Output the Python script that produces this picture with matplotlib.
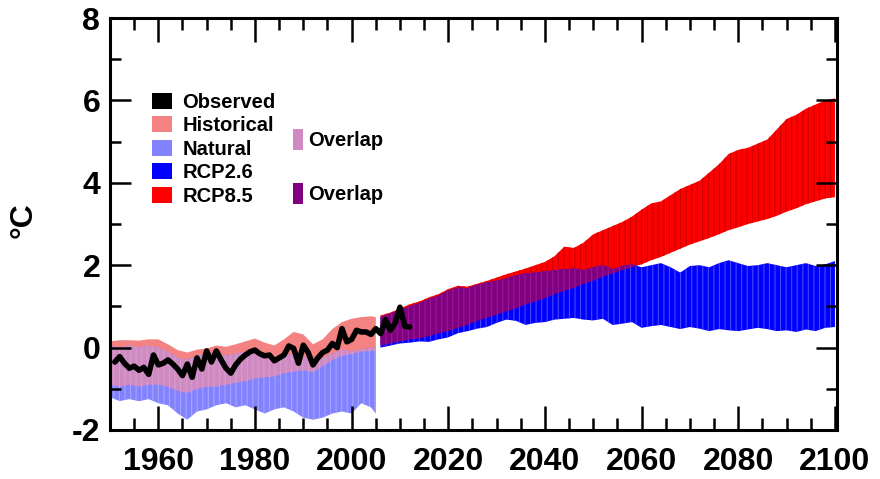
import numpy as np
import matplotlib
matplotlib.use("Agg")
import matplotlib.pyplot as plt
from matplotlib.patches import Patch
from matplotlib.ticker import MultipleLocator

plt.rcParams["font.family"] = ["Liberation Sans", "DejaVu Sans"]
plt.rcParams["axes.unicode_minus"] = False
plt.rcParams["hatch.linewidth"] = 0.8

# ---- observed global mean temperature anomaly (°C) ----
obs_years = np.arange(1951, 2013)
observed = [-0.35, -0.22, -0.38, -0.50, -0.45, -0.55, -0.48, -0.65, -0.18, -0.42,
            -0.38, -0.30, -0.40, -0.52, -0.68, -0.40, -0.72, -0.25, -0.52, -0.08,
            -0.35, -0.08, -0.30, -0.50, -0.62, -0.42, -0.28, -0.18, -0.10, -0.06,
            -0.15, -0.20, -0.18, -0.32, -0.25, -0.18, 0.04, -0.02, -0.38, 0.06,
            -0.12, -0.42, -0.25, -0.12, -0.06, 0.10, 0.00, 0.46, 0.14, 0.20,
            0.42, 0.38, 0.38, 0.32, 0.46, 0.34, 0.68, 0.42, 0.60, 0.98,
            0.52, 0.50]

# ---- model ranges 1950-2005 ----
hist_years = np.append(np.arange(1950, 2005, 2), 2005)
historical_hi = [0.15, 0.18, 0.18, 0.17, 0.20, 0.20, 0.08, -0.06, -0.12, -0.05,
                 -0.02, 0.05, 0.02, 0.08, 0.15, 0.22, 0.12, 0.05, 0.20, 0.38,
                 0.32, 0.08, 0.20, 0.45, 0.62, 0.70, 0.74, 0.76, 0.74]
historical_lo = [-0.90, -0.95, -0.90, -0.95, -0.90, -0.90, -0.95, -1.05, -1.10, -1.00,
                 -0.95, -0.95, -0.90, -0.85, -0.82, -0.75, -0.72, -0.70, -0.62, -0.58,
                 -0.55, -0.60, -0.45, -0.30, -0.20, -0.15, -0.10, -0.08, -0.08]
natural_hi = [0.05, 0.00, 0.05, 0.00, 0.05, 0.00, -0.10, -0.25, -0.30, -0.20,
              -0.15, -0.15, -0.20, -0.15, -0.10, -0.10, -0.20, -0.30, -0.20, -0.15,
              -0.20, -0.35, -0.25, -0.15, -0.05, -0.10, -0.05, 0.00, 0.00]
natural_lo = [-1.20, -1.30, -1.25, -1.30, -1.25, -1.35, -1.40, -1.60, -1.75, -1.55,
              -1.50, -1.40, -1.35, -1.45, -1.40, -1.50, -1.60, -1.50, -1.45, -1.55,
              -1.70, -1.75, -1.70, -1.60, -1.55, -1.60, -1.35, -1.45, -1.60]

# ---- scenario ranges 2006-2100 ----
rcp_years = np.arange(2006, 2101, 2)
rcp85_hi = [0.78, 0.85, 0.95, 1.05, 1.12, 1.22, 1.30, 1.42, 1.50, 1.48,
            1.55, 1.62, 1.70, 1.78, 1.85, 1.92, 2.00, 2.08, 2.22, 2.45,
            2.42, 2.55, 2.75, 2.85, 2.95, 3.05, 3.18, 3.35, 3.50, 3.55,
            3.70, 3.85, 3.95, 4.05, 4.25, 4.45, 4.70, 4.80, 4.85, 4.95,
            5.05, 5.30, 5.55, 5.65, 5.80, 5.90, 6.00, 6.05]
rcp85_lo = [0.05, 0.10, 0.15, 0.20, 0.22, 0.28, 0.35, 0.40, 0.48, 0.55,
            0.65, 0.72, 0.80, 0.88, 0.95, 1.05, 1.12, 1.20, 1.30, 1.38,
            1.45, 1.55, 1.62, 1.72, 1.80, 1.88, 1.95, 2.02, 2.12, 2.20,
            2.30, 2.40, 2.50, 2.58, 2.66, 2.75, 2.85, 2.92, 3.00, 3.06,
            3.12, 3.20, 3.30, 3.38, 3.48, 3.55, 3.62, 3.65]
rcp26_hi = [0.74, 0.82, 0.92, 1.00, 1.08, 1.18, 1.26, 1.38, 1.46, 1.44,
            1.52, 1.58, 1.62, 1.68, 1.75, 1.80, 1.82, 1.85, 1.88, 1.90,
            1.92, 1.88, 1.95, 2.00, 1.90, 1.98, 2.02, 1.95, 2.00, 2.05,
            1.95, 1.82, 1.98, 2.00, 1.95, 2.05, 2.12, 2.05, 1.98, 2.00,
            2.05, 2.00, 1.95, 2.00, 2.05, 1.98, 2.02, 2.10]
rcp26_lo = [0.00, 0.05, 0.10, 0.12, 0.15, 0.14, 0.20, 0.25, 0.35, 0.40,
            0.46, 0.50, 0.60, 0.68, 0.65, 0.55, 0.60, 0.62, 0.68, 0.70,
            0.72, 0.68, 0.66, 0.70, 0.55, 0.58, 0.62, 0.48, 0.52, 0.55,
            0.50, 0.45, 0.50, 0.46, 0.40, 0.45, 0.42, 0.40, 0.44, 0.48,
            0.45, 0.40, 0.42, 0.38, 0.44, 0.40, 0.48, 0.50]

labels = ["Observed", "Historical", "Natural", "RCP2.6", "RCP8.5"]
c_obs = "black"
c_hist = "#f48282"
c_nat = "#8282ff"
c_hist_nat = "#d08ac2"
c_rcp26 = "#0000ff"
c_rcp85 = "#ff0000"
c_rcp_both = "#800080"

fig = plt.figure(figsize=(8.8, 4.79), dpi=100)
ax = fig.add_axes([0.125, 0.1023, 0.826, 0.8601])


def band(x, lo, hi, face, stripe=None, **kw):
    if stripe is None:
        ax.fill_between(x, lo, hi, facecolor=face, edgecolor="none", lw=0, **kw)
    else:
        ax.fill_between(x, lo, hi, facecolor=face, edgecolor=stripe, lw=0,
                        hatch="|||", **kw)


# historical / natural ranges and their overlap
hl, hh = np.array(historical_lo), np.array(historical_hi)
nl, nh = np.array(natural_lo), np.array(natural_hi)
band(hist_years, hl, hh, c_hist)
band(hist_years, nl, nh, c_nat, stripe="#a4a4ff")
olo, ohi = np.maximum(hl, nl), np.minimum(hh, nh)
band(hist_years, olo, ohi, c_hist_nat, stripe="#d89ccc",
     where=olo < ohi, interpolate=True)

# scenario ranges and their overlap
rl85, rh85 = np.array(rcp85_lo), np.array(rcp85_hi)
rl26, rh26 = np.array(rcp26_lo), np.array(rcp26_hi)
band(rcp_years, rl85, rh85, c_rcp85, stripe="#cc0000")
band(rcp_years, rl26, rh26, c_rcp26, stripe="#4646ff")
plo, phi = np.maximum(rl85, rl26), np.minimum(rh85, rh26)
band(rcp_years, plo, phi, c_rcp_both, stripe="#981898",
     where=plo < phi, interpolate=True)

# observations
ax.plot(obs_years, observed, color=c_obs, lw=4, solid_joinstyle="round",
        solid_capstyle="round", zorder=5)

# axes styling
ax.set_xlim(1950, 2100.4)
ax.set_ylim(-2, 8)
ax.xaxis.set_minor_locator(MultipleLocator(5))
ax.yaxis.set_major_locator(MultipleLocator(2))
ax.yaxis.set_minor_locator(MultipleLocator(1))
ax.set_xticks(np.arange(1960, 2101, 20))
for s in ax.spines.values():
    s.set_linewidth(2.2)
ax.tick_params(axis="both", which="both", direction="in", top=True, right=True,
               width=1.8, color="black")
ax.tick_params(axis="x", which="major", length=17, pad=12)
ax.tick_params(axis="x", which="minor", length=8.5)
ax.tick_params(axis="y", which="major", length=15, pad=7)
ax.tick_params(axis="y", which="minor", length=8)
for lab in ax.get_xticklabels() + ax.get_yticklabels():
    lab.set_fontsize(23)
    lab.set_fontweight("bold")

fig.text(0.027, 0.54, "°C", rotation=90, fontsize=23, fontweight="bold",
         ha="center", va="center")

# legends
handles = [Patch(facecolor=c, edgecolor="none") for c in
           [c_obs, c_hist, c_nat, c_rcp26, c_rcp85]]
leg1 = ax.legend(handles, labels, loc="upper left",
                 bbox_to_anchor=(152 / 880, 1 - 93 / 479),
                 bbox_transform=fig.transFigure, frameon=False,
                 prop={"size": 14.5, "weight": "bold"}, handlelength=1.0,
                 handleheight=0.85, handletextpad=0.5, labelspacing=0.22,
                 borderpad=0, borderaxespad=0)
ax.add_artist(leg1)

ov_handles = [Patch(facecolor=c_hist_nat, edgecolor="none"),
              Patch(facecolor=c_rcp_both, edgecolor="none")]
ax.legend(ov_handles, ["Overlap", "Overlap"], loc="upper left",
          bbox_to_anchor=(293 / 880, 1 - 129 / 479),
          bbox_transform=fig.transFigure, frameon=False,
          prop={"size": 14.5, "weight": "bold"}, handlelength=0.5,
          handleheight=1.25, handletextpad=0.25, labelspacing=1.6,
          borderpad=0, borderaxespad=0)

fig.savefig("out.png", dpi=100)
